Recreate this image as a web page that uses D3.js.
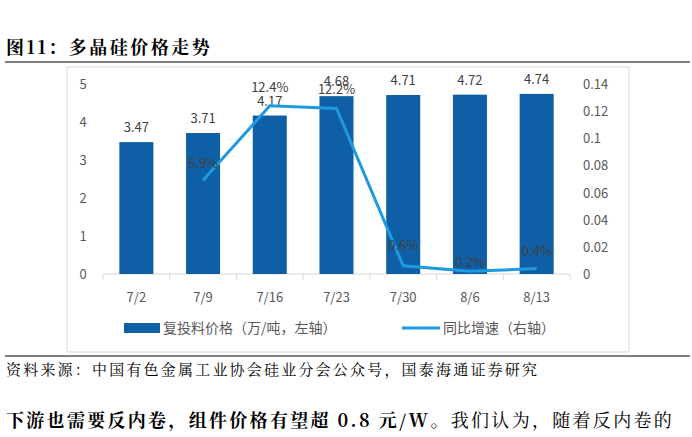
<!DOCTYPE html><html><head><meta charset="utf-8">
<script src="https://cdn.jsdelivr.net/npm/d3@7"></script>
<style>body{margin:0;background:#fff}</style></head><body>
<svg id="c" width="692" height="437"></svg>
<script>
const categories=["7/2","7/9","7/16","7/23","7/30","8/6","8/13"];
const prices=[3.47,3.71,4.17,4.68,4.71,4.72,4.74];
const growth=[null,0.069,0.124,0.122,0.006,0.002,0.004];
const growthLabels=[null,"6.9%","12.4%","12.2%","0.6%","0.2%","0.4%"];
const leftTicks=[0,1,2,3,4,5];
const rightTicks=[0,0.02,0.04,0.06,0.08,0.1,0.12,0.14];
const svg=d3.select("#c");
const f="'Noto Sans CJK SC',sans-serif";
const serif="'Noto Serif CJK SC','Noto Sans CJK SC',serif";
svg.append("text").attr("x",6).attr("y",54).attr("font-family",serif).attr("font-weight","bold").attr("font-size",18).attr("letter-spacing",2.5).text("图11：多晶硅价格走势");
svg.append("line").attr("x1",5).attr("x2",690).attr("y1",62).attr("y2",62).attr("stroke","#000").attr("stroke-width",1.2);
svg.append("rect").attr("x",67).attr("y",67).attr("width",562).attr("height",285).attr("fill","#fff").attr("stroke","#d9d9d9");
const x=d3.scaleBand().domain(categories).range([103,570]).paddingInner(0.49).paddingOuter(0.245);
const y=d3.scaleLinear().domain([0,5]).range([274,84]);
const y2=d3.scaleLinear().domain([0,0.14]).range([274,84]);
const ax="#595959";
leftTicks.forEach(t=>svg.append("text").attr("x",83).attr("y",y(t)+5).attr("text-anchor","middle").attr("font-family",f).attr("font-size",13).attr("fill",ax).text(t));
rightTicks.forEach(t=>svg.append("text").attr("x",583).attr("y",y2(t)+5).attr("font-family",f).attr("font-size",13).attr("fill",ax).text(t));
svg.append("line").attr("x1",103).attr("x2",570).attr("y1",274).attr("y2",274).attr("stroke","#d9d9d9");
categories.forEach((c,i)=>{const t=103+i*(467/7);svg.append("line").attr("x1",t).attr("x2",t).attr("y1",274).attr("y2",280).attr("stroke","#d9d9d9");});
svg.append("line").attr("x1",570).attr("x2",570).attr("y1",274).attr("y2",280).attr("stroke","#d9d9d9");
svg.selectAll(".b").data(prices).join("rect").attr("x",(d,i)=>x(categories[i])).attr("width",x.bandwidth()).attr("y",d=>y(d)).attr("height",d=>274-y(d)).attr("fill","#0f5fa6");
svg.selectAll(".bl").data(prices).join("text").attr("x",(d,i)=>x(categories[i])+x.bandwidth()/2).attr("y",d=>y(d)-10).attr("text-anchor","middle").attr("font-family",f).attr("font-size",13).attr("fill","#404040").text(d=>d.toFixed(2));
categories.forEach(c=>svg.append("text").attr("x",x(c)+x.bandwidth()/2).attr("y",302).attr("text-anchor","middle").attr("font-family",f).attr("font-size",13).attr("fill",ax).text(c));
const pts=growth.map((g,i)=>[g,i]).filter(p=>p[0]!==null);
const line=d3.line().x(p=>x(categories[p[1]])+x.bandwidth()/2).y(p=>y2(p[0]));
svg.append("path").attr("d",line(pts)).attr("fill","none").attr("stroke","#1f9ae0").attr("stroke-width",3);
const lo=[null,[0,-17],[0,-19],[0,-19],[0,-21],[0,-9],[0,-18]];
pts.forEach(p=>{const i=p[1];svg.append("text").attr("x",x(categories[i])+x.bandwidth()/2+lo[i][0]).attr("y",y2(p[0])+lo[i][1]+5).attr("text-anchor","middle").attr("font-family",f).attr("font-size",13).attr("fill","#404040").text(growthLabels[i]);});
svg.append("rect").attr("x",124).attr("y",323).attr("width",36).attr("height",10).attr("fill","#0f5fa6");
svg.append("text").attr("x",163).attr("y",333).attr("font-family",f).attr("font-size",14).attr("fill",ax).text("复投料价格（万/吨，左轴）");
svg.append("line").attr("x1",402).attr("x2",440).attr("y1",328).attr("y2",328).attr("stroke","#1f9ae0").attr("stroke-width",3);
svg.append("text").attr("x",443).attr("y",333).attr("font-family",f).attr("font-size",14).attr("fill",ax).text("同比增速（右轴）");
svg.append("line").attr("x1",5).attr("x2",690).attr("y1",356).attr("y2",356).attr("stroke","#000").attr("stroke-width",1);
svg.append("text").attr("x",6).attr("y",375).attr("font-family",serif).attr("font-size",15).attr("letter-spacing",2.2).text("资料来源：中国有色金属工业协会硅业分会公众号，国泰海通证券研究");
const t=svg.append("text").attr("x",6).attr("y",427).attr("font-family",serif).attr("font-size",18).attr("letter-spacing",2.3);
t.append("tspan").attr("font-weight","bold").text("下游也需要反内卷，组件价格有望超 0.8 元/W");
t.append("tspan").text("。我们认为，随着反内卷的");
</script></body></html>
